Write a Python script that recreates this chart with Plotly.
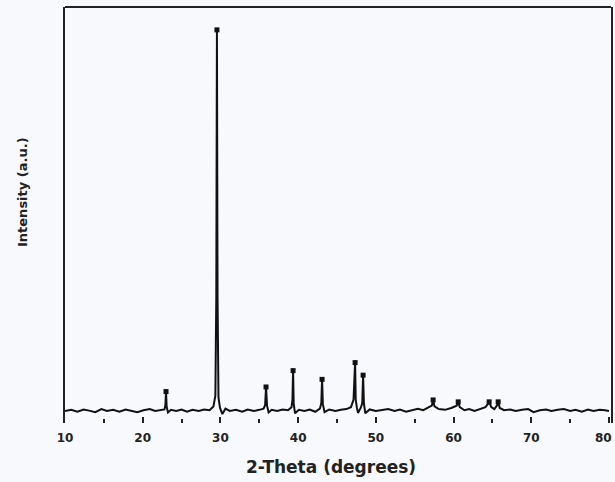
import plotly.graph_objects as go

# XRD pattern
two_theta = [
    10.0, 10.8, 11.6, 12.4, 13.1, 13.9, 14.7, 15.4, 16.2, 17.0,
    17.8, 18.5, 19.3, 20.1, 20.9, 21.6, 22.3, 22.8, 22.92, 23.0,
    23.08, 23.25, 23.65, 24.3, 25.0, 25.7, 26.4, 27.2, 27.9, 28.6,
    29.1, 29.35, 29.47, 29.55, 29.63, 29.75, 29.95, 30.25, 30.65, 31.2,
    32.0, 32.8, 33.5, 34.3, 35.0, 35.55, 35.75, 35.87, 36.0, 36.2,
    36.6, 37.3, 38.0, 38.7, 39.15, 39.27, 39.35, 39.43, 39.6, 40.1,
    40.8, 41.5, 42.2, 42.8, 42.98, 43.08, 43.18, 43.4, 44.0, 44.8,
    45.5, 46.2, 46.8, 47.13, 47.33, 47.41, 47.55, 47.7, 48.05, 48.25,
    48.36, 48.46, 48.65, 49.2, 50.0, 50.8, 51.6, 52.4, 53.1, 53.9,
    54.7, 55.4, 56.1, 56.8, 57.2, 57.37, 57.55, 58.1, 58.9, 59.7,
    60.4, 60.6, 60.8, 61.4, 62.0, 62.7, 63.4, 64.1, 64.4, 64.58,
    64.85, 65.25, 65.6, 65.74, 65.95, 66.5, 67.3, 68.0, 68.8, 69.6,
    70.3, 71.1, 71.9, 72.6, 73.4, 74.2, 75.0, 75.7, 76.5, 77.3,
    78.0, 78.8, 79.5, 80.0,
]
intensity = [
    0.0, 0.3, -0.2, 0.4, 0.1, -0.3, 0.5, 0.0, 0.3, -0.2,
    0.4, 0.0, -0.3, 0.2, 0.5, 0.0, 0.3, 0.4, 1.5, 5.1,
    1.2, -0.4, 0.3, 0.0, 0.4, -0.2, 0.3, 0.0, 0.4, 0.2,
    1.2, 4.0, 30.0, 100.0, 30.0, 3.5, 0.8, -0.8, 0.6, 0.0,
    0.3, -0.2, 0.4, 0.0, 0.3, 0.6, 1.5, 6.3, 1.4, -0.4,
    0.3, 0.0, 0.4, 0.2, 1.0, 3.0, 10.6, 2.0, -0.6, 0.3,
    0.0, 0.4, -0.2, 0.6, 2.0, 8.3, 1.8, -0.3, 0.4, 0.0,
    0.3, 0.5, 1.0, 3.0, 12.7, 3.0, 1.0, -0.5, 0.8, 2.0,
    9.4, 2.0, -0.6, 0.4, 0.0, 0.3, 0.5, 0.0, 0.4, -0.2,
    0.3, 0.6, 0.2, 1.0, 1.4, 2.9, 1.2, 0.5, 0.3, 0.8,
    1.4, 2.4, 1.0, 0.2, 0.5, 0.0, 0.6, 1.0, 1.8, 2.4,
    1.0, 0.5, 1.5, 2.4, 0.8, 0.2, 0.4, 0.0, 0.3, 0.5,
    -0.3, 0.2, 0.4, 0.0, 0.3, 0.5, 0.0, 0.3, -0.2, 0.4,
    0.0, 0.3, 0.2, 0.0,
]

# Marked reflections (peak tops)
peak_pos = [23.0, 29.55, 35.87, 39.35, 43.08, 47.33, 48.36, 57.37, 60.6, 64.58, 65.74]
peak_int = [5.1, 100.0, 6.3, 10.6, 8.3, 12.7, 9.4, 2.9, 2.4, 2.4, 2.4]

x_ticks = [10, 20, 30, 40, 50, 60, 70, 80]
x_labels = ["10", "20", "30", "40", "50", "60", "70", ""]
last_label = "80"

fig = go.Figure()
fig.add_trace(go.Scatter(
    x=two_theta, y=intensity, mode="lines",
    line=dict(color="#111111", width=2), showlegend=False,
))
fig.add_trace(go.Scatter(
    x=peak_pos, y=peak_int, mode="markers",
    marker=dict(symbol="square", size=5, color="#111111"), showlegend=False,
))

fam = "DejaVu Sans"
fig.update_layout(
    width=615, height=482,
    margin=dict(l=65, r=4, t=7, b=59, autoexpand=False),
    paper_bgcolor="#f8f9fc", plot_bgcolor="#f8f9fc",
    font=dict(family=fam, color="#222222"),
    xaxis=dict(
        range=[10, 80.26], tickvals=x_ticks, ticktext=x_labels,
        ticks="inside", ticklen=6, tickwidth=2, tickcolor="#222222",
        minor=dict(dtick=5, tick0=10, ticks="inside", ticklen=4, tickcolor="#222222"),
        showline=False, showgrid=False, zeroline=False,
        tickfont=dict(size=12, family=fam, weight="bold"),
        ticklabelstandoff=6, automargin=False, ticklabeloverflow="allow",
    ),
    yaxis=dict(
        range=[-3.15, 106.0], showticklabels=False, ticks="",
        showline=True, mirror=True, linecolor="#222222", linewidth=2,
        showgrid=False, zeroline=False, automargin=False,
    ),
    shapes=[dict(type="line", xref="paper", yref="paper", x0=0, x1=1, y0=1, y1=1,
                 line=dict(color="#222222", width=2))],
    annotations=[
        dict(text=last_label, xref="paper", yref="paper",
             x=(614 - 65) / 546, y=-(438 - 423) / 416, xanchor="right", yanchor="middle",
             showarrow=False, font=dict(size=12, family=fam, weight="bold", color="#222222")),
        dict(text="2-Theta (degrees)", xref="paper", yref="paper",
             x=(331 - 65) / 546, y=-(467 - 423) / 416, xanchor="center", yanchor="middle",
             showarrow=False, font=dict(size=17, family=fam, weight="bold", color="#222222")),
        dict(text="Intensity (a.u.)", xref="paper", yref="paper",
             x=-(65 - 22) / 546, y=(423 - 192) / 416, xanchor="center", yanchor="middle",
             textangle=-90, showarrow=False,
             font=dict(size=13, family=fam, weight="bold", color="#222222")),
    ],
)

fig.write_html("out.html")
